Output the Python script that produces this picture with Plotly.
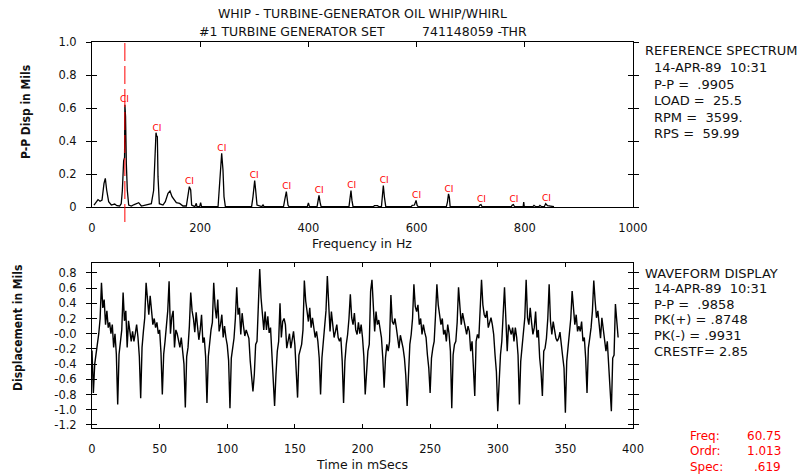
import plotly.graph_objects as go

# ---------------- DATA ----------------
# Spectrum polyline vertices (Hz, mils p-p)
spec_freq_hz = [3.7, 8.0, 11.1, 14.8, 18.5, 22.2, 24.6, 27.1, 30.8, 35.7, 41.9, 46.0, 51.1, 54.0, 56.1, 58.5,
                60.2, 60.8, 62.0, 63.5, 65.3, 67.8, 72.7, 78.0, 81.9, 86.3, 91.2, 100.4, 109.7, 113.9, 116.5,
                118.3, 119.6, 120.8, 122.0, 124.5, 131.2, 135.5, 140.5, 144.2, 147.9, 151.6, 155.9, 162.0,
                168.2, 174.4, 177.4, 179.9, 182.4, 184.2, 190.0, 192.8, 194.0, 199.0, 200.8, 202.5, 233.0,
                235.4, 237.8, 239.7, 242.1, 244.0, 246.5, 295.0, 297.6, 300.7, 302.5, 305.0, 314.0, 316.1,
                318.0, 354.0, 356.1, 359.2, 362.3, 364.0, 398.0, 400.0, 402.0, 416.0, 418.0, 419.6, 421.5,
                423.5, 475.0, 477.0, 478.7, 480.5, 482.5, 520.0, 522.0, 528.0, 530.0, 535.0, 537.0, 538.5,
                540.5, 543.0, 590.0, 592.0, 596.0, 599.0, 601.0, 603.0, 655.0, 657.0, 659.0, 660.5, 662.0,
                715.0, 717.0, 719.0, 721.0, 775.0, 777.0, 779.0, 781.0, 797.0, 798.0, 799.0, 815.0, 817.0,
                820.0, 826.0, 828.0, 831.0, 836.0, 838.6, 842.0, 848.0, 854.0]
spec_amp_mils = [0.012, 0.03, 0.045, 0.035, 0.042, 0.143, 0.174, 0.103, 0.032, 0.012, 0.018, 0.008, 0.006, 0.02,
                 0.10, 0.28, 0.30, 0.62, 0.55, 0.26, 0.10, 0.012, 0.006, 0.015, 0.018, 0.026, 0.006, 0.012,
                 0.02, 0.10, 0.285, 0.45, 0.43, 0.426, 0.184, 0.02, 0.012, 0.032, 0.083, 0.097, 0.063, 0.042,
                 0.026, 0.022, 0.006, 0.006, 0.063, 0.123, 0.103, 0.012, 0.002, 0.022, 0.002, 0.002, 0.026,
                 0.002, 0.002, 0.103, 0.224, 0.325, 0.224, 0.063, 0.002, 0.002, 0.063, 0.16, 0.103, 0.012,
                 0.002, 0.012, 0.002, 0.002, 0.04, 0.093, 0.012, 0.002, 0.002, 0.025, 0.002, 0.002, 0.04,
                 0.07, 0.03, 0.002, 0.002, 0.05, 0.10, 0.04, 0.002, 0.002, 0.008, 0.008, 0.002, 0.002, 0.07,
                 0.13, 0.06, 0.002, 0.002, 0.01, 0.012, 0.04, 0.01, 0.002, 0.002, 0.03, 0.08, 0.06, 0.002,
                 0.002, 0.012, 0.015, 0.002, 0.002, 0.012, 0.015, 0.002, 0.002, 0.03, 0.002, 0.002, 0.01,
                 0.002, 0.002, 0.01, 0.002, 0.002, 0.02, 0.008, 0.006, 0.002]

# Harmonic markers (1x .. 14x running speed)
harm_freq_hz = [60, 120, 180, 240, 300, 360, 420, 480, 540, 600, 660, 720, 780, 840]
harm_amp_mils = [0.62, 0.45, 0.123, 0.325, 0.16, 0.093, 0.07, 0.10, 0.13, 0.04, 0.08, 0.015, 0.015, 0.02]
harm_label = "CI"

cursor_freq_hz = 60.75

# Waveform samples (mils), 1 ms apart, written cycle by cycle
wave_cycles = [
    [-0.22],
    [-0.78, -0.40, -0.27, -0.12, 0.0, 0.20, 0.67, 0.34, 0.45, 0.12, 0.30, 0.08, 0.15, 0.0, 0.12, -0.18, 0.0, -0.27],
    [-0.93, -0.27, -0.14, 0.05, 0.54, 0.17, 0.30, -0.18, 0.17, 0.02, -0.10, 0.03, -0.10, 0.0, 0.12, -0.05, -0.30],
    [-0.85, -0.18, 0.03, 0.21, 0.67, 0.43, 0.25, 0.50, 0.28, 0.12, 0.20, 0.08, 0.15, 0.0, 0.05, -0.25],
    [-0.80, -0.27, -0.10, 0.08, 0.30, 0.69, 0.0, 0.22, 0.30, -0.18, 0.05, 0.0, -0.10, -0.18, -0.05, -0.25, -0.40],
    [-0.97, -0.30, -0.18, 0.10, 0.54, 0.30, 0.20, 0.02, 0.28, 0.12, -0.08, 0.05, 0.25, -0.12, -0.05, -0.30],
    [-0.91, -0.30, -0.10, 0.05, 0.15, 0.67, 0.35, 0.20, 0.45, 0.03, 0.12, 0.25, -0.05, 0.10, -0.05, -0.15, -0.35],
    [-0.98, -0.32, -0.17, -0.06, 0.20, 0.61, 0.25, 0.34, -0.01, 0.27, 0.10, -0.03, 0.05, 0.0, -0.06, -0.36, -0.55],
    [-0.76, -0.54, -0.14, -0.10, 0.30, 0.85, 0.47, 0.20, 0.05, 0.29, 0.05, 0.23, 0.01, 0.08, -0.21, -0.52],
    [-0.95, -0.54, -0.23, -0.10, 0.40, -0.05, 0.16, 0.20, 0.12, -0.19, -0.10, 0.0, -0.19, -0.05, 0.03, -0.15, -0.45],
    [-0.84, -0.28, -0.19, -0.14, 0.05, 0.70, 0.43, 0.27, 0.16, 0.34, 0.08, 0.21, 0.10, -0.05, 0.03, -0.10, -0.32],
    [-0.80, -0.32, -0.10, 0.12, 0.30, 0.76, 0.43, 0.03, 0.29, 0.15, -0.05, 0.03, 0.12, -0.05, -0.10, -0.05, -0.36],
    [-0.91, -0.36, -0.14, -0.01, 0.20, 0.52, 0.21, 0.12, 0.27, 0.05, -0.01, 0.15, 0.0, 0.12, -0.05, -0.30],
    [-0.80, -0.45, -0.23, -0.14, 0.56, 0.71, 0.43, 0.03, 0.29, 0.12, 0.18, 0.03, -0.05, -0.32],
    [-0.71, -0.32, -0.14, -0.23, -0.10, 0.51, 0.16, 0.12, 0.20, 0.08, -0.05, -0.19, -0.02, -0.10, -0.19, -0.32, -0.55],
    [-0.95, -0.58, -0.14, -0.01, 0.20, 0.65, 0.36, 0.29, 0.38, 0.12, 0.20, -0.01, 0.12, 0.02, -0.05, -0.28, -0.45],
    [-0.78, -0.32, -0.19, -0.10, 0.25, 0.65, 0.38, 0.25, 0.12, 0.20, -0.01, 0.05, -0.10, 0.12, 0.0, -0.23],
    [-0.98, -0.28, -0.14, -0.10, 0.15, 0.61, 0.29, 0.12, 0.27, 0.18, 0.12, -0.01, 0.10, 0.03, -0.23, -0.10, -0.45],
    [-0.82, -0.10, -0.01, -0.06, 0.25, 0.71, 0.38, 0.25, 0.21, 0.30, 0.08, 0.15, 0.21, 0.12, -0.01, -0.28, -0.50],
    [-1.02, -0.63, -0.28, -0.10, 0.21, 0.61, 0.19, -0.23, 0.12, 0.05, -0.01, 0.08, -0.10, 0.08, -0.05, -0.28],
    [-0.93, -0.36, -0.14, 0.05, 0.21, 0.71, 0.21, 0.12, 0.34, 0.15, -0.01, 0.08, 0.29, -0.05, 0.05, -0.32, -0.50],
    [-0.82, -0.23, -0.19, -0.06, 0.20, 0.65, 0.16, -0.01, 0.16, 0.05, -0.06, -0.10, -0.06, 0.02, -0.19, -0.30, -0.45],
    [-1.04, -0.36, -0.14, -0.01, 0.20, 0.56, 0.29, 0.12, 0.25, 0.03, 0.10, 0.03, 0.16, -0.10, -0.05, -0.32],
    [-0.78, -0.19, -0.06, 0.08, 0.30, 0.70, 0.43, 0.21, 0.30, 0.12, -0.06, 0.21, 0.05, -0.06, -0.23, -0.10, -0.40, -0.63],
    [-1.02, -0.32, -0.28, 0.39, 0.12, -0.05],
]
wave_sample_ms = 1.0

# Tick labels
spec_xticks = [0, 200, 400, 600, 800, 1000]
spec_yticks = [0, 0.2, 0.4, 0.6, 0.8, 1.0]
spec_yticktext = ["0", "0.2", "0.4", "0.6", "0.8", "1.0"]
wave_xticks = [0, 50, 100, 150, 200, 250, 300, 350, 400]
wave_yticks = [0.8, 0.6, 0.4, 0.2, 0.0, -0.2, -0.4, -0.6, -0.8, -1.0, -1.2]
wave_yticktext = ["0.8", "0.6", "0.4", "0.2", "-0.0", "-0.2", "-0.4", "-0.6", "-0.8", "-1.0", "-1.2"]

# Text blocks
title_line1 = "WHIP - TURBINE-GENERATOR OIL WHIP/WHIRL"
title_line2a = "#1 TURBINE GENERATOR SET"
title_line2b = "741148059 -THR"
spec_info = ["REFERENCE SPECTRUM", "14-APR-89\u00a0\u00a010:31", "P-P =\u00a0\u00a0.9905",
             "LOAD =\u00a0\u00a025.5", "RPM =\u00a0\u00a03599.", "RPS =\u00a0\u00a059.99"]
wave_info = ["WAVEFORM DISPLAY", "14-APR-89\u00a0\u00a010:31", "P-P =\u00a0\u00a0.9858",
             "PK(+) = .8748", "PK(-) = .9931", "CRESTF= 2.85"]
cursor_labels = ["Freq:", "Ordr:", "Spec:"]
cursor_values = ["60.75", "1.013", ".619"]

# ---------------- FIGURE ----------------
wave_disp_mils = [v for cyc in wave_cycles for v in cyc]
wave_time_ms = [i * wave_sample_ms for i in range(len(wave_disp_mils))]

W, H = 805, 475
ML, MR, MT, MB = 92, 172, 42, 47
plot_h = H - MT - MB


def py(pix_y):
    """pixel y (from top) -> paper y"""
    return (H - MB - pix_y) / plot_h


def px(pix_x):
    return (pix_x - ML) / (W - ML - MR)


FONT = "DejaVu Sans, Verdana, sans-serif"
NARROW = "Liberation Sans Narrow, DejaVu Sans Condensed, Arial Narrow, sans-serif"
INK = "#111111"

fig = go.Figure()

fig.add_trace(go.Scatter(x=spec_freq_hz, y=spec_amp_mils, mode="lines",
                         line=dict(color="black", width=1.3), xaxis="x", yaxis="y",
                         hoverinfo="skip", showlegend=False))
fig.add_trace(go.Scatter(x=harm_freq_hz, y=harm_amp_mils, mode="text",
                         text=[harm_label] * len(harm_freq_hz), textposition="top center",
                         textfont=dict(color="red", size=9, family=FONT),
                         xaxis="x", yaxis="y", cliponaxis=False, hoverinfo="skip", showlegend=False))
fig.add_trace(go.Scatter(x=wave_time_ms, y=wave_disp_mils, mode="lines",
                         line=dict(color="black", width=1.4), xaxis="x2", yaxis="y2",
                         hoverinfo="skip", showlegend=False))
# dummy traces to activate overlay tick axes
fig.add_trace(go.Scatter(x=[None], y=[None], xaxis="x3", yaxis="y3", showlegend=False, hoverinfo="skip"))
fig.add_trace(go.Scatter(x=[None], y=[None], xaxis="x2", yaxis="y4", showlegend=False, hoverinfo="skip"))

tickfont = dict(family=FONT, size=11.5, color=INK)
top_dom = [py(207), py(42)]
bot_dom = [py(428), py(263)]

fig.update_layout(
    width=W, height=H, margin=dict(l=ML, r=MR, t=MT, b=MB),
    paper_bgcolor="white", plot_bgcolor="white",
    xaxis=dict(domain=[0, 1], anchor="y", range=[0, 1000], tickvals=spec_xticks,
               ticks="", showline=True, linecolor="black", linewidth=1, mirror=True,
               showgrid=False, zeroline=False, tickfont=tickfont, ticklabelstandoff=10),
    xaxis3=dict(overlaying="x", anchor="y", side="top", range=[0, 1000], tickvals=spec_xticks[1:-1],
                ticks="inside", ticklen=5, tickcolor="black", showticklabels=False, showline=False,
                showgrid=False, zeroline=False),
    yaxis=dict(domain=top_dom, anchor="x", range=[0, 1], tickvals=spec_yticks, ticktext=spec_yticktext,
               ticks="outside", ticklen=5, tickcolor="black", showline=True, linecolor="black",
               mirror="ticks", showgrid=False, zeroline=False, tickfont=tickfont, ticklabelstandoff=7),
    yaxis3=dict(overlaying="y", anchor="x3", range=[0, 1], tickvals=spec_yticks[1:-1],
                ticks="inside", ticklen=5, tickcolor="black", mirror="ticks", showline=False,
                showticklabels=False, showgrid=False, zeroline=False),
    xaxis2=dict(domain=[0, 1], anchor="y2", range=[0, 400], tickvals=wave_xticks,
                ticks="inside", ticklen=4, tickcolor="black", showline=True, linecolor="black",
                mirror="ticks", showgrid=False, zeroline=False, tickfont=tickfont, ticklabelstandoff=10),
    yaxis2=dict(domain=bot_dom, anchor="x2", range=[-1.24, 0.93], tickvals=wave_yticks,
                ticktext=wave_yticktext, ticks="outside", ticklen=5, tickcolor="black", showline=True,
                linecolor="black", mirror="ticks", showgrid=False, zeroline=False, tickfont=tickfont,
                ticklabelstandoff=7),
    yaxis4=dict(overlaying="y2", anchor="x2", range=[-1.24, 0.93], tickvals=wave_yticks,
                ticks="inside", ticklen=5, tickcolor="black", mirror="ticks", showline=False,
                showticklabels=False, showgrid=False, zeroline=False),
)

# cursor line (extends slightly below the spectrum baseline)
fig.add_shape(type="line", xref="x", yref="paper", x0=cursor_freq_hz, x1=cursor_freq_hz,
              y0=py(222), y1=py(42), line=dict(color="red", width=1, dash="18px,5px"))

ann = []


def add_text(text, x, y, size=11, color=INK, xanchor="left", family=FONT, angle=0, bold=False):
    if bold:
        text = "<b>" + text + "</b>"
    ann.append(dict(text=text, x=px(x), y=py(y), xref="paper", yref="paper", showarrow=False,
                    xanchor=xanchor, yanchor="middle", textangle=angle,
                    font=dict(family=family, size=size, color=color)))


add_text(title_line1, 362, 14, size=12.5, xanchor="center")
add_text(title_line2a, 197, 32, size=12.5)
add_text(title_line2b, 420, 32, size=12.5)

add_text("Frequency in Hz", 362, 243, size=12.5, xanchor="center")
add_text("Time in mSecs", 362, 465, size=12.5, xanchor="center")
add_text("P-P Disp in Mils", 26, 112, size=12, xanchor="center", family=NARROW, angle=-90, bold=True)
add_text("Displacement in Mils", 18, 328, size=12, xanchor="center", family=NARROW, angle=-90, bold=True)

for i, t in enumerate(spec_info):
    add_text(t, 643 if i == 0 else 652, 51 + i * 16.5, size=13)
for i, t in enumerate(wave_info):
    add_text(t, 643 if i == 0 else 652, 273 + i * 15.6, size=13)
for i, (lab, val) in enumerate(zip(cursor_labels, cursor_values)):
    add_text(lab, 688, 436 + i * 15.3, size=12, color="red")
    add_text(val, 783, 436 + i * 15.3, size=12, color="red", xanchor="right")

fig.update_layout(annotations=ann)

fig.write_html("out.html")
